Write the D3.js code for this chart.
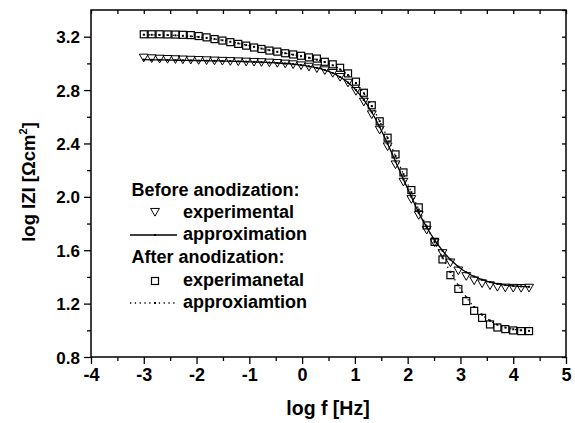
<!DOCTYPE html>
<html><head><meta charset="utf-8">
<script src="https://cdn.jsdelivr.net/npm/d3@7"></script>
<style>
body{margin:0;background:#fff}
svg{display:block}
text{font-family:"Liberation Sans",Arial,Helvetica,sans-serif;font-weight:bold;fill:#000}
</style>
</head><body>
<svg id="c" width="575" height="423"></svg>
<script>
// ---- data ----
const logF = [-3.00,-2.85,-2.70,-2.55,-2.40,-2.26,-2.11,-1.96,-1.81,-1.66,
              -1.51,-1.36,-1.21,-1.06,-0.91,-0.77,-0.62,-0.47,-0.32,-0.17,
              -0.02, 0.13, 0.28, 0.43, 0.58, 0.72, 0.87, 1.02, 1.17, 1.32,
               1.47, 1.62, 1.77, 1.92, 2.07, 2.21, 2.36, 2.51, 2.66, 2.81,
               2.96, 3.11, 3.26, 3.41, 3.56, 3.70, 3.85, 4.00, 4.15, 4.30];

const beforeExp = [3.050,3.045,3.042,3.040,3.038,3.036,3.034,3.032,3.030,3.028,
                   3.026,3.024,3.022,3.020,3.018,3.016,3.013,3.010,3.005,3.000,
                   2.992,2.982,2.970,2.955,2.935,2.905,2.862,2.800,2.720,2.625,
                   2.510,2.385,2.250,2.120,1.990,1.870,1.760,1.665,1.585,1.515,
                   1.455,1.413,1.381,1.359,1.344,1.332,1.327,1.325,1.324,1.326];

const beforeFit = [3.028,3.027,3.026,3.025,3.024,3.023,3.022,3.021,3.020,3.019,
                   3.018,3.017,3.015,3.013,3.011,3.009,3.006,3.003,2.999,2.994,
                   2.987,2.978,2.966,2.950,2.928,2.898,2.856,2.800,2.726,2.634,
                   2.523,2.398,2.265,2.131,2.000,1.880,1.772,1.677,1.597,1.530,
                   1.477,1.435,1.403,1.379,1.361,1.348,1.339,1.333,1.329,1.326];

const afterExp = [3.218,3.218,3.218,3.217,3.216,3.214,3.212,3.205,3.195,3.182,
                  3.171,3.159,3.146,3.133,3.119,3.108,3.096,3.088,3.076,3.067,
                  3.057,3.045,3.036,3.012,2.993,2.967,2.925,2.863,2.780,2.686,
                  2.566,2.443,2.318,2.183,2.051,1.921,1.786,1.663,1.531,1.413,
                  1.310,1.219,1.146,1.093,1.044,1.021,1.009,0.999,0.994,0.994];

const afterFit = [3.215,3.214,3.213,3.212,3.210,3.207,3.203,3.198,3.191,3.183,
                  3.173,3.162,3.150,3.137,3.124,3.111,3.099,3.087,3.076,3.065,
                  3.054,3.042,3.028,3.010,2.986,2.955,2.912,2.853,2.776,2.681,
                  2.567,2.440,2.306,2.170,2.035,1.905,1.780,1.660,1.545,1.437,
                  1.337,1.248,1.175,1.117,1.073,1.042,1.021,1.008,1.000,0.996];

const xTicks = [-4,-3,-2,-1,0,1,2,3,4,5];
const xMinor = [-3.5,-2.5,-1.5,-0.5,0.5,1.5,2.5,3.5,4.5];
const yTicks = [0.8,1.2,1.6,2.0,2.4,2.8,3.2];
const yMinor = [1.0,1.4,1.8,2.2,2.6,3.0,3.4];
const legendHeaders = ["Before anodization:","After anodization:"];
const legendLabels = ["experimental","approximation","experimanetal","approxiamtion"];
const xTitle = "log f [Hz]";

// ---- layout ----
const svg = d3.select("#c");
const m = {l:91, t:10, r:566, b:357};
const x = d3.scaleLinear().domain([-4,5]).range([m.l,m.r]);
const y = d3.scaleLinear().domain([0.8,3.4]).range([m.b,m.t]);

svg.append("rect").attr("width",575).attr("height",423).attr("fill","#fff");

function styleAxis(g){
  g.select(".domain").remove();
  g.selectAll("line").attr("stroke","#000").attr("stroke-width",1.3);
}
// bottom
svg.append("g").attr("transform",`translate(0,${m.b})`)
  .call(d3.axisBottom(x).tickValues(xTicks).tickSize(7).tickPadding(4).tickFormat(d=>String(d)))
  .call(styleAxis)
  .call(g=>g.selectAll("text").attr("font-size",18).attr("font-family",null).attr("dy","0.72em"));
svg.append("g").attr("transform",`translate(0,${m.b})`)
  .call(d3.axisBottom(x).tickValues(xMinor).tickSize(4).tickFormat(""))
  .call(styleAxis);
// left
svg.append("g").attr("transform",`translate(${m.l},0)`)
  .call(d3.axisLeft(y).tickValues(yTicks).tickSize(7).tickPadding(4).tickFormat(d3.format(".1f")))
  .call(styleAxis)
  .call(g=>g.selectAll("text").attr("font-size",17).attr("font-family",null).attr("dy","0.36em"));
svg.append("g").attr("transform",`translate(${m.l},0)`)
  .call(d3.axisLeft(y).tickValues(yMinor.filter(v=>v<3.39)).tickSize(4).tickFormat(""))
  .call(styleAxis);
// top (inward)
svg.append("g").attr("transform",`translate(0,${m.t})`)
  .call(d3.axisTop(x).tickValues(xTicks.concat(xMinor)).tickSize(-4).tickFormat(""))
  .call(styleAxis);
// right (inward)
svg.append("g").attr("transform",`translate(${m.r},0)`)
  .call(d3.axisRight(y).tickValues(yTicks.concat(yMinor)).tickSize(-4).tickFormat(""))
  .call(styleAxis);

// frame
svg.append("rect").attr("x",m.l).attr("y",m.t).attr("width",m.r-m.l).attr("height",m.b-m.t)
  .attr("fill","none").attr("stroke","#000").attr("stroke-width",1.5);

// axis titles
svg.append("text").attr("x",328).attr("y",415).attr("text-anchor","middle")
  .attr("font-size",19.5).text(xTitle);
const yt = svg.append("text").attr("transform","translate(35,182) rotate(-90)")
  .attr("text-anchor","middle").attr("font-size",18.5);
yt.append("tspan").text("log IZI [\u03A9cm");
yt.append("tspan").attr("font-size",11).attr("dy",-8).text("2");
yt.append("tspan").attr("dy",8).text("]");

// ---- marks ----
const before = logF.map((f,i)=>({f, v:beforeExp[i], fit:beforeFit[i]}));
const after  = logF.map((f,i)=>({f, v:afterExp[i], fit:afterFit[i]}));
const tri = d3.symbol().type(d3.symbolTriangle).size(34);
const sq = 7;

svg.append("g").selectAll("path").data(before).join("path")
  .attr("d",tri).attr("transform",d=>`translate(${x(d.f)},${y(d.v)}) rotate(180)`)
  .attr("fill","none").attr("stroke","#000").attr("stroke-width",1);

svg.append("g").selectAll("rect").data(after).join("rect")
  .attr("x",d=>x(d.f)-sq/2).attr("y",d=>y(d.v)-sq/2).attr("width",sq).attr("height",sq)
  .attr("fill","none").attr("stroke","#000").attr("stroke-width",1.2);

const line = d3.line().x(d=>x(d.f)).y(d=>y(d.fit)).curve(d3.curveMonotoneX);
svg.append("path").datum(before).attr("d",line).attr("fill","none")
  .attr("stroke","#000").attr("stroke-width",1.3);
svg.append("path").datum(after).attr("d",line).attr("fill","none")
  .attr("stroke","#000").attr("stroke-width",1.3).attr("stroke-dasharray","1.3,3.5");
svg.append("g").selectAll("rect").data(before.concat(after)).join("rect")
  .attr("x",d=>x(d.f)-1).attr("y",d=>y(d.fit)-1).attr("width",2).attr("height",2).attr("fill","#000");

// ---- legend ----
const lg = svg.append("g");
const hdrY = [196, 263];
legendHeaders.forEach((t,i)=>lg.append("text").attr("x",131.5).attr("y",hdrY[i]).attr("font-size",18).text(t));
const rowY = [218, 240, 286, 308];
legendLabels.forEach((t,i)=>lg.append("text").attr("x",183).attr("y",rowY[i]).attr("font-size",18).text(t));
lg.append("path").attr("d",tri).attr("transform","translate(155,211) rotate(180)")
  .attr("fill","none").attr("stroke","#000").attr("stroke-width",1);
lg.append("line").attr("x1",130).attr("x2",177).attr("y1",235).attr("y2",235)
  .attr("stroke","#000").attr("stroke-width",1.3);
lg.append("rect").attr("x",155-1).attr("y",235-1).attr("width",2).attr("height",2);
lg.append("rect").attr("x",155-sq/2).attr("y",281-sq/2).attr("width",sq).attr("height",sq)
  .attr("fill","none").attr("stroke","#000").attr("stroke-width",1.2);
lg.append("line").attr("x1",130).attr("x2",177).attr("y1",303).attr("y2",303)
  .attr("stroke","#000").attr("stroke-width",1.3).attr("stroke-dasharray","1.3,3.5");
lg.append("rect").attr("x",155-1).attr("y",303-1).attr("width",2).attr("height",2);
</script>
</body></html>
